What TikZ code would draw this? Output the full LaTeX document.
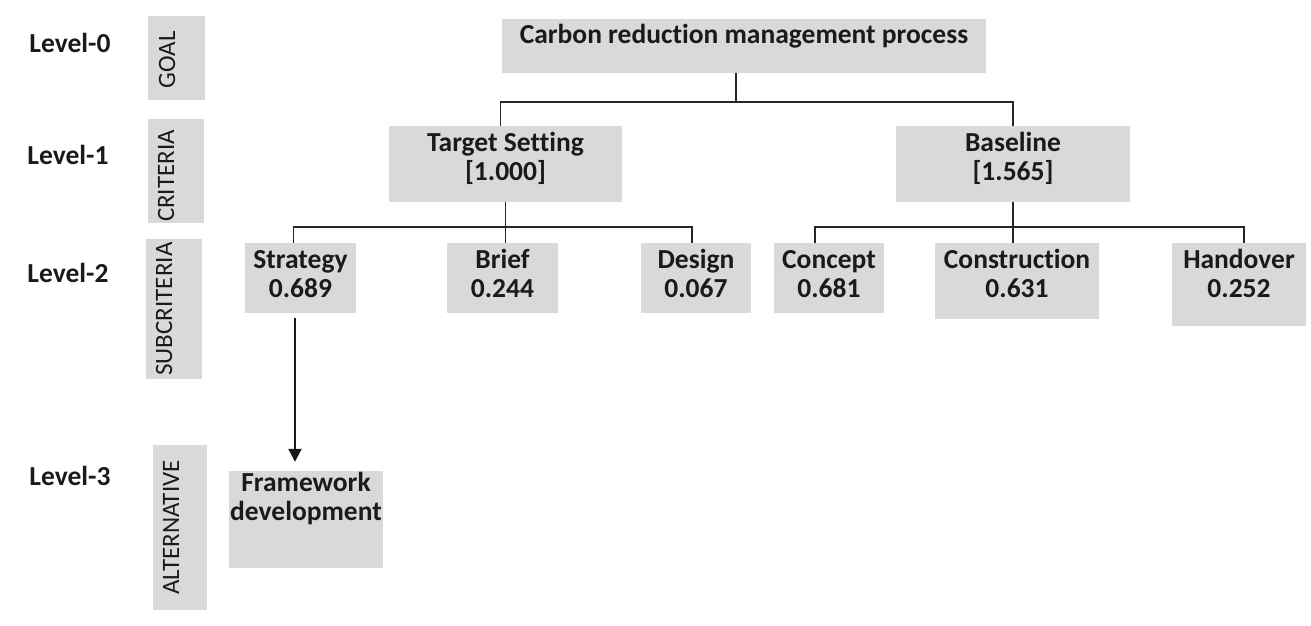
\documentclass[tikz,border=0pt]{standalone}
\usepackage{fontspec}
\setmainfont{Carlito}[Ligatures={NoCommon}]
\usetikzlibrary{arrows.meta}
\definecolor{boxgray}{HTML}{D9D9D9}
\definecolor{ink}{HTML}{1A1A1A}
\begin{document}
\begin{tikzpicture}[x=1pt,y=-1pt,
  box/.style={fill=boxgray, draw=none, inner sep=0pt},
  txt/.style={font=\fontsize{27.5}{29}\selectfont\bfseries, text=ink, align=center, inner sep=0pt, anchor=base},
  sidetxt/.style={font=\fontsize{25}{29}\selectfont, text=ink, rotate=90, inner sep=0pt},
  lvl/.style={font=\fontsize{27.5}{29}\selectfont\bfseries, text=ink, inner sep=0pt},
  conn/.style={line width=1.6pt, draw=black!85},
  arrowline/.style={line width=2pt, draw=black!90, -{Triangle[width=13pt,length=13pt]}}]
\useasboundingbox (0,0) rectangle (1311,625);

% level labels
\node[lvl] (l0) at (70,43) {Level-0};
\node[lvl] (l1) at (68,154.5) {Level-1};
\node[lvl] (l2) at (68,272.5) {Level-2};
\node[lvl] (l3) at (70,475.5) {Level-3};

% side bars
\node[box, minimum width=57pt, minimum height=84pt] (sgoal) at (176.5,58) {};
\node[sidetxt] (sgoalt) at (167,60) {GOAL};
\node[box, minimum width=56pt, minimum height=104pt] (scrit) at (176,171) {};
\node[sidetxt] (scritt) at (166,176) {CRITERIA};
\node[box, minimum width=56pt, minimum height=140pt] (ssub) at (174,309) {};
\node[sidetxt] (ssubt) at (164,309) {SUBCRITERIA};
\node[box, minimum width=54pt, minimum height=165pt] (salt) at (180,527.5) {};
\node[sidetxt] (saltt) at (171,527.5) {ALTERNATIVE};

% boxes
\node[box, minimum width=484pt, minimum height=54pt] (goal) at (744,46) {};
\node[txt] (goalt) at (744,43) {Carbon reduction management process};

\node[box, minimum width=233pt, minimum height=76pt] (ts) at (505.5,164) {};
\node[txt] (tst) at (505.5,180) {Target Setting\\{[1.000]}};
\node[box, minimum width=234pt, minimum height=76pt] (bs) at (1013,164) {};
\node[txt] (bst) at (1013,180) {Baseline\\{[1.565]}};

\node[box, minimum width=111pt, minimum height=70pt] (strat) at (300.5,278) {};
\node[txt] (stratt) at (300.5,297) {Strategy\\0.689};
\node[box, minimum width=111pt, minimum height=70pt] (brief) at (502.5,278) {};
\node[txt] (brieft) at (502.5,297) {Brief\\0.244};
\node[box, minimum width=110pt, minimum height=70pt] (design) at (696,278) {};
\node[txt] (designt) at (696,297) {Design\\0.067};
\node[box, minimum width=110pt, minimum height=70pt] (concept) at (829,278) {};
\node[txt] (conceptt) at (829,297) {Concept\\0.681};
\node[box, minimum width=164pt, minimum height=76pt] (constr) at (1017,281) {};
\node[txt] (constrt) at (1017,297) {Construction\\0.631};
\node[box, minimum width=134pt, minimum height=83pt] (hand) at (1239,284.5) {};
\node[txt] (handt) at (1239,297) {Handover\\0.252};

\node[box, minimum width=154pt, minimum height=97pt] (fw) at (306,519.5) {};
\node[txt] (fwt) at (306,520) {Framework\\development};

% connectors
\coordinate (b0) at (736,102);
\draw[conn] (b0 |- goal.south) -- (b0);
\draw[conn] ([xshift=-5pt]ts.north) |- (b0) -| (bs.north);

\coordinate (b1) at (505.5,227);
\draw[conn] (ts.south) -- (ts.south |- brief.north);
\draw[conn] ([xshift=-7pt]strat.north) |- (b1) -| ([xshift=-4pt]design.north);

\coordinate (b2) at (1013,227);
\draw[conn] (bs.south) -- (bs.south |- constr.north);
\draw[conn] ([xshift=-14pt]concept.north) |- (b2) -| ([xshift=5pt]hand.north);

\draw[arrowline, shorten <=5pt, shorten >=9pt] ([xshift=-5.5pt]strat.south) -- ([xshift=-11pt]fw.north);
\end{tikzpicture}
\end{document}
